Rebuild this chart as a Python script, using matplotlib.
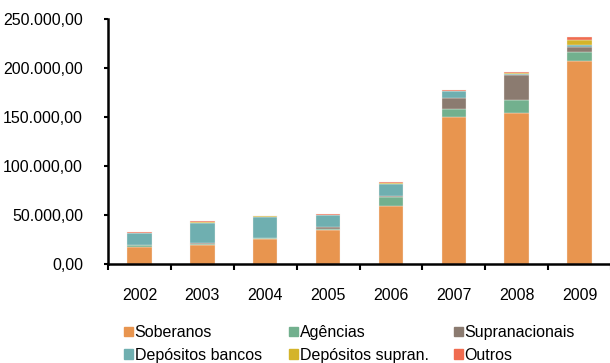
import matplotlib
matplotlib.use("Agg")
import matplotlib.pyplot as plt
from matplotlib.patches import Patch
from matplotlib.ticker import FuncFormatter, MultipleLocator
import numpy as np

plt.rcParams['font.family'] = ['Liberation Sans', 'DejaVu Sans']

years = ['2002', '2003', '2004', '2005', '2006', '2007', '2008', '2009']

soberanos      = [17000, 19700, 25500, 35000, 59500, 150000, 153700, 207000]
agencias       = [2000, 1000, 1000, 1000, 8500, 8200, 13600, 9000]
supranacionais = [300, 800, 300, 2000, 1400, 10800, 25600, 5100]
depositos_banc = [12000, 20800, 21200, 12000, 12600, 7500, 1300, 2000]
depositos_supr = [400, 500, 500, 300, 300, 400, 600, 5800]
outros         = [1000, 1100, 800, 1100, 1000, 1000, 1100, 2400]

series = [
    ('Soberanos', soberanos, '#E8954F'),
    ('Agências', agencias, '#72B08E'),
    ('Supranacionais', supranacionais, '#8B7B70'),
    ('Depósitos bancos', depositos_banc, '#6FAFB0'),
    ('Depósitos supran.', depositos_supr, '#D4B42A'),
    ('Outros', outros, '#F06C50'),
]

fig = plt.figure(figsize=(6.10, 3.63), dpi=100)
ax = fig.add_axes([108 / 610, 99 / 363, 503 / 610, 245 / 363])

x = np.arange(len(years))
bottom = np.zeros(len(years))
for name, vals, col in series:
    ax.bar(x, vals, 0.39, bottom=bottom, color=col, edgecolor='#f4f0ec',
           linewidth=0.25, label=name)
    bottom += np.array(vals)

ax.set_xlim(-0.5, len(years) - 0.5)
ax.set_ylim(0, 250000)
ax.yaxis.set_major_locator(MultipleLocator(50000))


def pt_format(v, pos):
    s = f"{v:,.2f}"
    return s.replace(',', 'X').replace('.', ',').replace('X', '.')


ax.yaxis.set_major_formatter(FuncFormatter(pt_format))

ax.set_xticks(x)
ax.set_xticklabels(years)
ax.set_xticks(np.arange(len(years) + 1) - 0.5, minor=True)
ax.tick_params(axis='x', which='major', length=0, pad=17, labelsize=11.5)
ax.tick_params(axis='x', which='minor', length=4, width=1.5, direction='out')
ax.tick_params(axis='y', length=3, width=1.5, pad=15, labelsize=11.5)

for side in ['top', 'right']:
    ax.spines[side].set_visible(False)
for side in ['left', 'bottom']:
    ax.spines[side].set_linewidth(1.8)

# legend: three columns of two entries each
col_x = [124, 289, 454]
for c in range(3):
    handles = [Patch(color=series[c][2], label=series[c][0]),
               Patch(color=series[c + 3][2], label=series[c + 3][0])]
    fig.legend(handles=handles, loc='upper left',
               bbox_to_anchor=(col_x[c] / 610, 1 - 325 / 363),
               frameon=False, fontsize=11.5, handlelength=0.55,
               handleheight=0.55, handletextpad=0.12, labelspacing=0.48,
               borderpad=0, borderaxespad=0)

fig.savefig('out.png', dpi=100)
